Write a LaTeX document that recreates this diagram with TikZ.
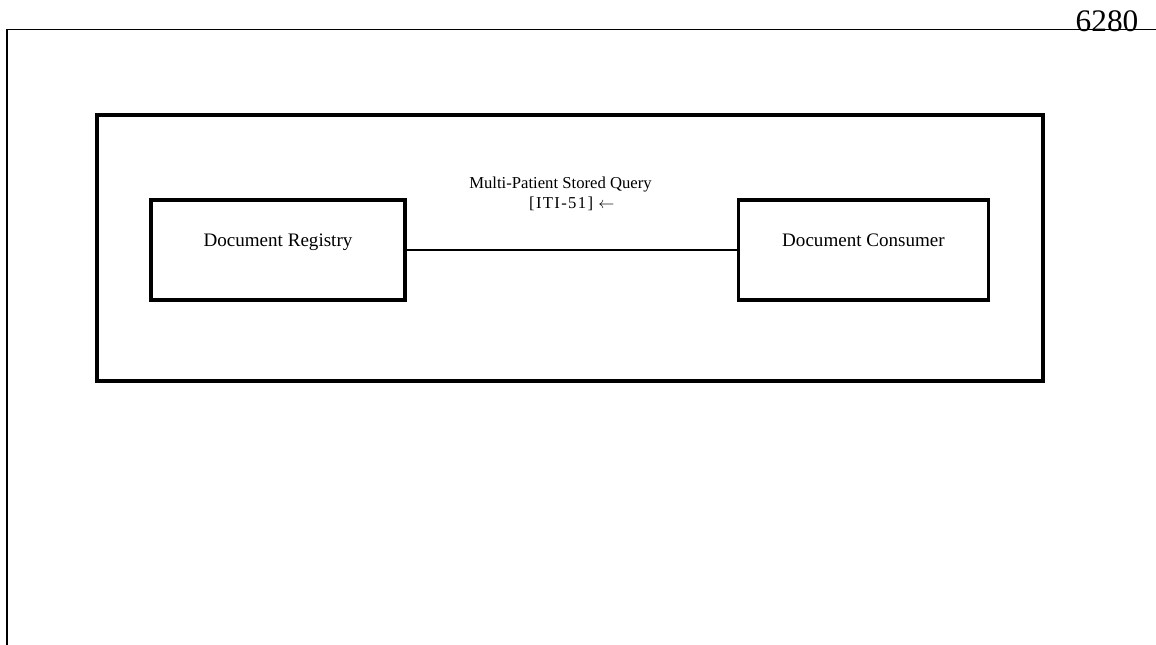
\documentclass[tikz,border=0pt]{standalone}
\usepackage{fontspec}
\setmainfont{Liberation Serif}
\usetikzlibrary{positioning}
\tikzset{actor/.style={draw,line width=2.4pt,minimum height=75pt,text height=10pt,text depth=14.5pt,font=\fontsize{14.3}{17}\selectfont}}
\begin{document}
\begin{tikzpicture}[x=0.75pt,y=-0.75pt]
\useasboundingbox (0,0) rectangle (1156,645);
\draw[line width=0.9pt] (7,645)--(7,29.5)--(1156,29.5);
\node[anchor=base,inner sep=0,font=\fontsize{23.5}{26}\selectfont] (page) at (1107,31.5) {6280};
\node[draw,line width=3pt,minimum width=709.5pt,minimum height=199.5pt] (frame) at (570,248) {};
\node[actor,minimum width=190.5pt] (registry) at (278,250) {Document Registry};
\node[actor,minimum width=188pt] (consumer) at (863.5,250) {Document Consumer};
\draw[line width=1.5pt] (registry)--(consumer);
\node[align=center,font=\fontsize{12.5}{15}\selectfont] (query) at (560.5,194) {Multi-Patient Stored Query\\\hspace*{17pt}{\addfontfeature{LetterSpace=8}[ITI-51]}\hspace{4pt}$\leftarrow$};
\end{tikzpicture}
\end{document}
